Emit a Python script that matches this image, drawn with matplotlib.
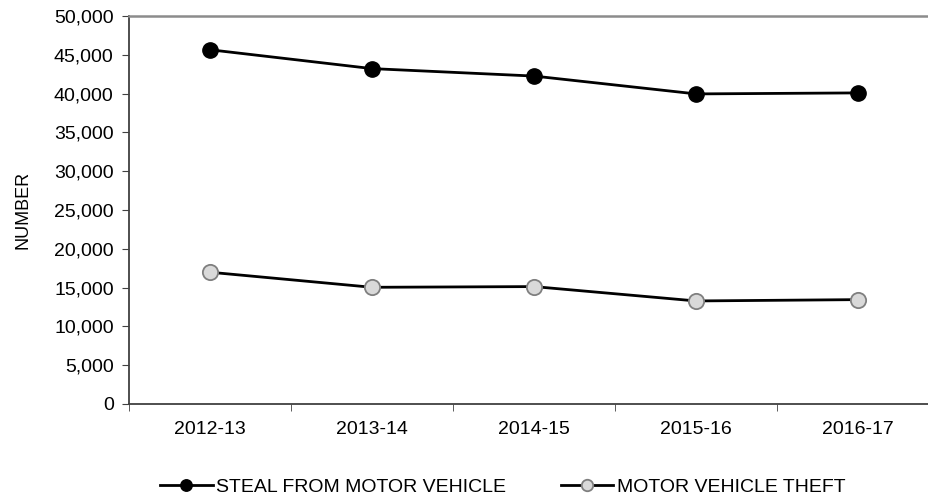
import matplotlib
matplotlib.use("Agg")
import matplotlib.pyplot as plt
from matplotlib.ticker import FuncFormatter

#data
years = ["2012-13", "2013-14", "2014-15", "2015-16", "2016-17"]
steal_from_vehicle = [45650, 43220, 42260, 39960, 40090]
vehicle_theft = [16980, 15040, 15130, 13280, 13450]

plt.rcParams["font.family"] = ["Liberation Sans", "DejaVu Sans"]
plt.rcParams["font.size"] = 14

fig = plt.figure(figsize=(9.29, 5.04), dpi=100)
#axes runs a bit past the right edge, like the cropped original
ax = fig.add_axes([129 / 929, 1 - 404 / 504, 810 / 929, 388 / 504])

x = list(range(len(years)))
ax.plot(x, steal_from_vehicle, color="black", linewidth=2.0, marker="o",
        markersize=11, markerfacecolor="black", markeredgecolor="black",
        label="STEAL FROM MOTOR VEHICLE", zorder=3)
ax.plot(x, vehicle_theft, color="black", linewidth=2.0, marker="o",
        markersize=11, markerfacecolor="#d9d9d9", markeredgecolor="#7f7f7f",
        markeredgewidth=1.3, label="MOTOR VEHICLE THEFT", zorder=3)

ax.set_xlim(-0.5, len(years) - 0.5)
ax.set_ylim(0, 50000)
ax.set_yticks(range(0, 50001, 5000))
ax.yaxis.set_major_formatter(FuncFormatter(lambda v, p: f"{int(v):,}"))
ax.set_xticks(x)
ax.set_xticklabels(years)
ax.set_xticks([i - 0.5 for i in range(len(years) + 1)], minor=True)
ax.tick_params(axis="x", which="major", length=0, pad=12)
ax.tick_params(axis="x", which="minor", length=5, direction="out", color="#404040")
ax.tick_params(axis="y", length=5, direction="out", color="#404040", pad=6)

ax.spines["right"].set_visible(False)
ax.spines["top"].set_color("#8c8c8c")
ax.spines["top"].set_linewidth(1.8)
ax.spines["left"].set_color("#404040")
ax.spines["bottom"].set_color("#404040")
ax.spines["left"].set_linewidth(1.3)
ax.spines["bottom"].set_linewidth(1.3)

ax.set_ylabel("NUMBER", fontsize=13, labelpad=16)

fig.legend(loc="center", bbox_to_anchor=(503 / 929, 1 - 487 / 504), ncol=2,
           frameon=False, columnspacing=2.8, handlelength=2.7,
           handletextpad=0.2, markerscale=0.75)

fig.savefig("out.png", dpi=100)
